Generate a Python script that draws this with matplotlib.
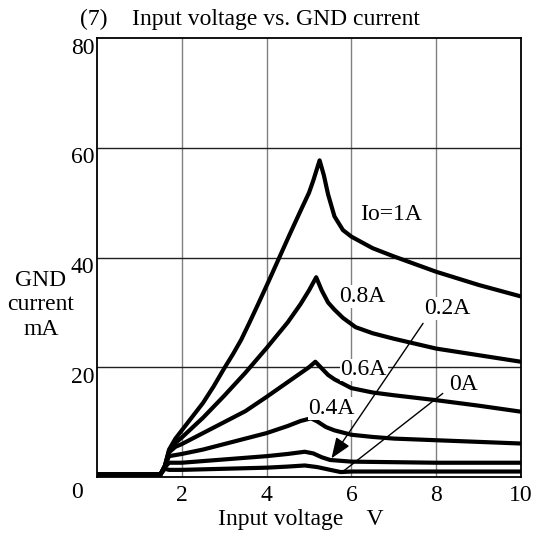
import matplotlib
matplotlib.use('Agg')
import matplotlib.pyplot as plt
import matplotlib.transforms as mtransforms

plt.rcParams['font.family'] = ['Liberation Serif', 'DejaVu Serif']
fs = 17

# input voltage (V) / GND current (mA)
v_1A = [0, 1.5, 1.6, 1.7, 1.85, 2.0, 2.25, 2.5, 2.75, 3.0, 3.2, 3.4, 3.6, 3.8, 4.05, 4.3, 4.55, 4.8, 5.0, 5.1, 5.25,
        5.35, 5.45, 5.6, 5.8, 6.0, 6.5, 7.0, 8.0, 9.0, 10.0]
i_1A = [0.5, 0.5, 2.0, 5.0, 7.0, 8.5, 11.0, 13.5, 16.5, 19.8, 22.3, 25.0, 28.2, 31.5, 35.7, 40.0, 44.3, 48.5, 51.8, 54.0, 57.7,
        55.0, 51.5, 47.5, 45.0, 43.8, 41.7, 40.2, 37.4, 35.0, 32.9]

v_08A = [0, 1.5, 1.6, 1.7, 1.85, 2.0, 2.5, 3.0, 3.5, 4.0, 4.5, 4.8, 5.0, 5.17, 5.3, 5.45, 5.6, 5.8, 6.1, 6.5, 7.0, 8.0, 9.0, 10.0]
i_08A = [0.5, 0.5, 2.0, 4.8, 6.2, 7.2, 10.8, 14.8, 19.0, 23.5, 28.2, 31.5, 34.0, 36.4, 34.0, 31.8, 30.5, 29.0, 27.3, 26.2, 25.2, 23.4, 22.2, 21.0]

v_06A = [0, 1.5, 1.6, 1.7, 1.85, 2.0, 2.5, 3.0, 3.5, 4.0, 4.5, 5.0, 5.15, 5.3, 5.45, 5.6, 6.0, 6.5, 7.0, 8.0, 9.0, 10.0]
i_06A = [0.5, 0.5, 2.0, 4.5, 5.5, 6.0, 8.0, 10.0, 12.0, 14.6, 17.3, 20.0, 21.0, 19.8, 18.6, 17.8, 16.2, 15.4, 14.9, 14.0, 13.0, 11.9]

v_04A = [0, 1.5, 1.6, 1.7, 1.85, 2.0, 2.5, 3.0, 3.5, 4.0, 4.5, 4.8, 5.05, 5.2, 5.4, 5.6, 6.0, 6.5, 7.0, 8.0, 9.0, 10.0]
i_04A = [0.5, 0.5, 2.0, 3.8, 4.0, 4.2, 5.0, 6.0, 7.0, 8.0, 9.3, 10.2, 10.7, 10.1, 9.1, 8.5, 7.7, 7.3, 7.0, 6.7, 6.4, 6.1]

v_02A = [0, 1.5, 1.6, 1.7, 1.85, 2.0, 2.5, 3.0, 3.5, 4.0, 4.5, 4.9, 5.1, 5.3, 5.5, 6.0, 7.0, 8.0, 9.0, 10.0]
i_02A = [0.5, 0.5, 1.8, 2.6, 2.6, 2.6, 2.9, 3.2, 3.5, 3.8, 4.2, 4.6, 4.3, 3.6, 3.1, 2.8, 2.7, 2.6, 2.6, 2.6]

v_0A = [0, 1.5, 1.6, 1.7, 2.0, 2.5, 3.0, 3.5, 4.0, 4.5, 4.9, 5.2, 5.5, 5.75, 6.0, 7.0, 8.0, 9.0, 10.0]
i_0A = [0.5, 0.5, 1.5, 1.3, 1.3, 1.4, 1.5, 1.6, 1.7, 1.9, 2.1, 1.8, 1.3, 0.9, 1.0, 1.0, 1.0, 1.0, 1.0]

curves = [(v_1A, i_1A), (v_08A, i_08A), (v_06A, i_06A), (v_04A, i_04A), (v_02A, i_02A), (v_0A, i_0A)]

# curve labels (text, x, y)
labels = [('Io=1A', 6.93, 47.8), ('0.8A', 6.25, 32.9), ('0.2A', 8.25, 30.7),
          ('0.6A', 6.29, 19.5), ('0A', 8.64, 16.8), ('0.4A', 5.53, 12.5)]
arrow_02A = [(7.69, 28.0), (5.53, 3.4)]
line_0A = [(8.15, 15.2), (5.8, 1.0)]

x_ticks = [2, 4, 6, 8, 10]
y_ticks = [20, 40, 60, 80]

fig = plt.figure(figsize=(5.37, 5.37), dpi=100)
W = H = 537.0
ax = fig.add_axes([97 / W, (H - 477) / H, (521 - 97) / W, (477 - 38) / H])

for v, i in curves:
    ax.plot(v, i, color='black', lw=3.0, solid_joinstyle='round', zorder=3)

for txt, x, y in labels:
    ax.text(x, y, txt, fontsize=fs, ha='center', va='center', zorder=4,
            bbox=dict(facecolor='white', edgecolor='none', pad=0.5))

ax.annotate('', xy=arrow_02A[1], xytext=arrow_02A[0], zorder=5,
            arrowprops=dict(arrowstyle='-|>,head_length=0.9,head_width=0.35',
                            mutation_scale=14, lw=1.0, color='black', shrinkA=0, shrinkB=0))
ax.plot([line_0A[0][0], line_0A[1][0]], [line_0A[0][1], line_0A[1][1]], color='black', lw=1.0, zorder=5)

ax.set_xlim(0, 10)
ax.set_ylim(0, 80)
ax.set_xticks(x_ticks)
ax.set_yticks(y_ticks)
ax.tick_params(length=0, labelsize=fs, pad=6)
ax.tick_params(axis='y', pad=2)
for x in x_ticks[:-1]:
    ax.axvline(x, color='#808080', lw=1.0, zorder=1)
for y in y_ticks[:-1]:
    ax.axhline(y, color='#202020', lw=1.0, zorder=1)
for s in ax.spines.values():
    s.set_color('black')
    s.set_linewidth(1.3)

# y labels sit a little under their grid lines
offset = mtransforms.ScaledTranslation(0, -5.5 / 72.0, fig.dpi_scale_trans)
for lbl in ax.get_yticklabels():
    lbl.set_transform(lbl.get_transform() + offset)

ax.text(-20 / 424.0, -15 / 439.0, '0', transform=ax.transAxes, fontsize=fs, ha='center', va='center')

fig.text(80 / W, 1 - 25 / H, '(7)', fontsize=fs, ha='left', va='baseline')
fig.text(132 / W, 1 - 25 / H, 'Input voltage vs. GND current', fontsize=fs, ha='left', va='baseline')
fig.text(41 / W, 1 - 305 / H, 'GND\ncurrent\nmA', fontsize=fs, ha='center', va='center', multialignment='center', linespacing=1.2)
fig.text(301 / W, 1 - 520 / H, 'Input voltage    V', fontsize=fs, ha='center', va='center')

fig.savefig('out.png', dpi=100)
